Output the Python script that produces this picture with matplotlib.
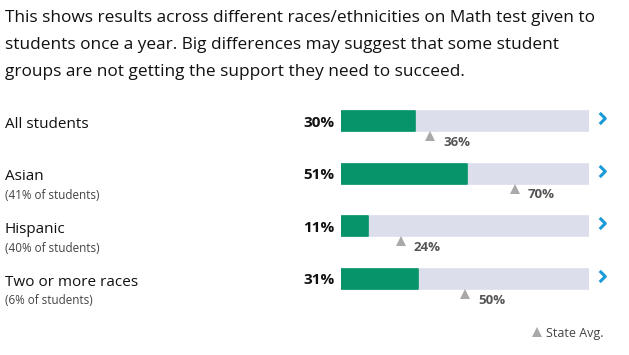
import numpy as np
import matplotlib.pyplot as plt
from matplotlib.path import Path
import matplotlib.transforms as mtransforms

plt.rcParams['font.family'] = ['Open Sans', 'DejaVu Sans']

# data
groups = ['All students', 'Asian', 'Hispanic', 'Two or more races']
shares = ['', '(41% of students)', '(40% of students)', '(6% of students)']
school = [30, 51, 11, 31]
state = [36, 70, 24, 50]

title = ("This shows results across different races/ethnicities on Math test given to\n"
         "students once a year. Big differences may suggest that some student\n"
         "groups are not getting the support they need to succeed.")

W, H = 629, 355
fig = plt.figure(figsize=(W / 100, H / 100), dpi=100)

# axes for the bars: x in percent, y in rows (downwards)
bx0, bx1 = 341, 589
top_px, bot_px = 95, 321
row0, step = 121, (279 - 121) / 3
ax = fig.add_axes([bx0 / W, 1 - bot_px / H, (bx1 - bx0) / W, (bot_px - top_px) / H])
ax.set_xlim(0, 100)
ax.set_ylim((bot_px - row0) / step, (top_px - row0) / step)
ax.axis('off')

rows = np.arange(len(groups))
bh = 20 / step
ax.barh(rows, [100] * len(rows), height=bh, color='#dcdeec', edgecolor='#dcdeec',
        linewidth=1.2, joinstyle='round')
ax.barh(rows, school, height=bh, color='#07946a', edgecolor='#07946a',
        linewidth=1.2, joinstyle='round')

# state average markers
tri_y = rows + 15 / step
ax.plot(state, tri_y, linestyle='none', marker='^', markersize=7.5,
        color='#a9a9a9', markeredgewidth=0)
for r, v in zip(rows, state):
    ax.annotate(f'{v}%', (v, r + 21 / step), xytext=(9.5, 0), textcoords='offset points',
                ha='left', va='center', fontsize=9.5, fontweight='bold', color='#555555')

# school value labels
for r, v in zip(rows, school):
    ax.annotate(f'{v}%', (0, r + 1.5 / step), xytext=(-4.5, 0), textcoords='offset points',
                ha='right', va='center', fontsize=11, fontweight='bold', color='#111111')

# chevrons
chev = Path([(-0.5, 1), (0.5, 0), (-0.5, -1)], [Path.MOVETO, Path.LINETO, Path.LINETO])
ax.plot([100] * len(rows), rows - 3 / step, linestyle='none', marker=chev,
        markersize=8, markerfacecolor='none', markeredgecolor='#1a9ad6',
        markeredgewidth=2.2, clip_on=False,
        transform=ax.transData + mtransforms.ScaledTranslation(0.125, 0, fig.dpi_scale_trans))

# row labels, in figure pixels via a blended transform
lab = mtransforms.blended_transform_factory(fig.transFigure, ax.transData)
for r, g, s in zip(rows, groups, shares):
    ax.text(5 / W, r + 3 / step, g, transform=lab, ha='left', va='center',
            fontsize=11, color='#111111')
    if s:
        ax.text(5 / W, r + 22 / step, s, transform=lab, ha='left', va='center',
                fontsize=8.4, color='#444444')

# title
fig.text(5 / W, 1 - 10 / H, title, ha='left', va='top', fontsize=12.45,
         color='#111111', linespacing=1.9)

# legend
fig.text(546 / W, 1 - 333 / H, 'State Avg.', ha='left', va='center',
         fontsize=9, color='#444444')
fig.lines.append(plt.Line2D([537 / W], [1 - 332 / H], transform=fig.transFigure,
                            marker='^', markersize=7, color='#a9a9a9',
                            markeredgewidth=0, linestyle='none'))

fig.savefig('out.png', dpi=100)
